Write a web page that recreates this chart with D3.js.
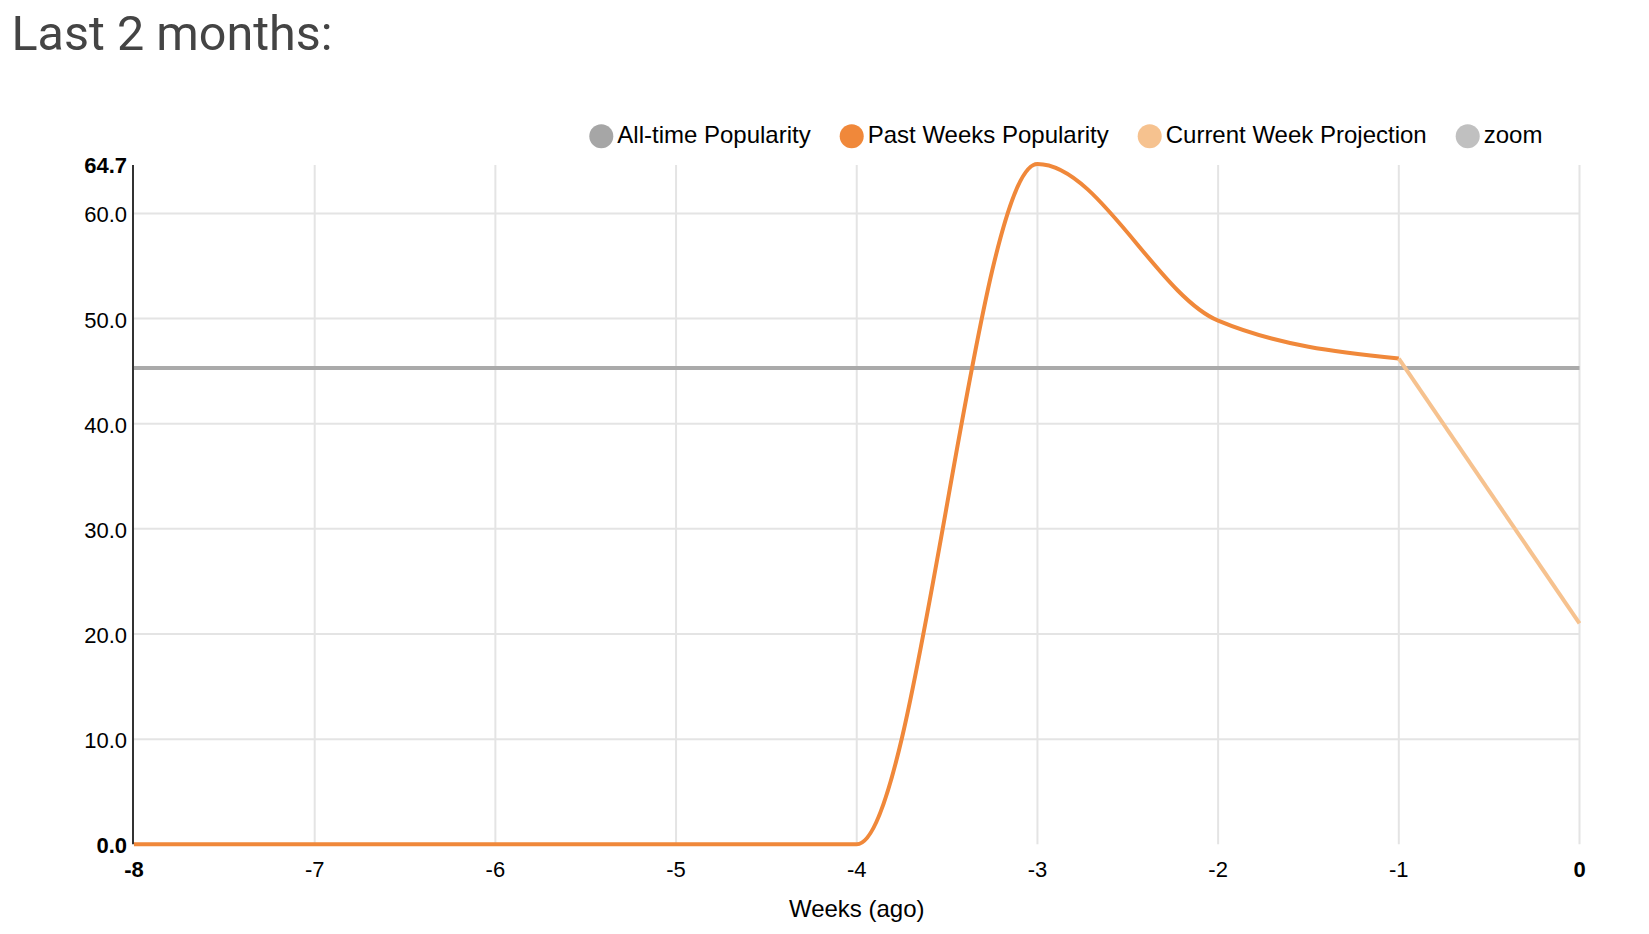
<!DOCTYPE html>
<html>
<head>
<meta charset="utf-8">
<script src="https://cdn.jsdelivr.net/npm/d3@7"></script>
<style>
  body { margin: 0; background: #fff; }
  svg { display: block; }
</style>
</head>
<body>
<svg id="chart"></svg>
<script>
const width = 1649;
const height = 934;

// data
const weeks = [-8, -7, -6, -5, -4, -3, -2, -1, 0];
const pastWeeks = [-8, -7, -6, -5, -4, -3, -2, -1];
const pastValues = [0, 0, 0, 0, 0, 64.7, 49.8, 46.2];
const projectionWeeks = [-1, 0];
const projectionValues = [46.2, 21.0];
const allTimeValue = 45.3;
const yTicks = [0, 10, 20, 30, 40, 50, 60, 64.7];
const legendKeys = ["All-time Popularity", "Past Weeks Popularity", "Current Week Projection", "zoom"];
const legendColors = ["#a6a6a6", "#f0883a", "#f6c28f", "#c0c0c0"];

const margin = { left: 134, right: 1649 - 1579.5, top: 164, bottom: 934 - 844.3 };

const svg = d3.select("#chart").attr("width", width).attr("height", height);

const xScale = d3.scaleLinear().domain([-8, 0]).range([margin.left, width - margin.right]);
const yScale = d3.scaleLinear().domain([0, 64.7]).range([height - margin.bottom, margin.top]);

// title
svg.append("text")
  .attr("x", 11.5)
  .attr("y", 50)
  .style("font-family", "Roboto")
  .style("font-size", "48.5px")
  .style("fill", "#444")
  .text("Last 2 months:");

// grid
const grid = svg.append("g");
grid.selectAll(".hgrid")
  .data(yTicks.filter(d => d > 0 && d < 64.7))
  .enter()
  .append("line")
  .attr("x1", xScale(-8))
  .attr("x2", xScale(0))
  .attr("y1", d => yScale(d))
  .attr("y2", d => yScale(d))
  .style("stroke", "#e4e4e4")
  .style("stroke-width", 2);

grid.selectAll(".vgrid")
  .data(weeks.filter(d => d > -8))
  .enter()
  .append("line")
  .attr("x1", d => xScale(d))
  .attr("x2", d => xScale(d))
  .attr("y1", yScale(64.7) + 1)
  .attr("y2", yScale(0))
  .style("stroke", "#e4e4e4")
  .style("stroke-width", 2);

// all-time line
const flat = weeks.map(w => [w, allTimeValue]);
svg.append("path")
  .datum(flat)
  .attr("d", d3.line().x(d => xScale(d[0])).y(d => yScale(d[1])))
  .style("fill", "none")
  .style("stroke", "#aaaaaa")
  .style("stroke-width", 4);

// past weeks
const line = d3.line()
  .x(d => xScale(d[0]))
  .y(d => yScale(d[1]))
  .curve(d3.curveMonotoneX);

svg.append("path")
  .datum(pastWeeks.map((w, i) => [w, pastValues[i]]))
  .attr("d", line)
  .style("fill", "none")
  .style("stroke", "#f0883a")
  .style("stroke-width", 4)
  .style("stroke-linejoin", "round");

svg.append("path")
  .datum(projectionWeeks.map((w, i) => [w, projectionValues[i]]))
  .attr("d", line)
  .style("fill", "none")
  .style("stroke", "#f6c28f")
  .style("stroke-width", 4);

// y axis line
svg.append("line")
  .attr("x1", xScale(-8) - 1)
  .attr("x2", xScale(-8) - 1)
  .attr("y1", yScale(64.7) + 1)
  .attr("y2", yScale(0))
  .style("stroke", "#333")
  .style("stroke-width", 2);

const font = "'Liberation Sans', Arial, sans-serif";

// y labels
svg.selectAll(".ylab")
  .data(yTicks)
  .enter()
  .append("text")
  .attr("x", 127)
  .attr("y", d => yScale(d) + 9)
  .attr("text-anchor", "end")
  .style("font-family", font)
  .style("font-size", "22px")
  .style("font-weight", d => (d === 0 || d === 64.7) ? "bold" : "normal")
  .style("fill", "#000")
  .text(d => d3.format(".1f")(d));

// x labels
svg.selectAll(".xlab")
  .data(weeks)
  .enter()
  .append("text")
  .attr("x", d => xScale(d))
  .attr("y", 877)
  .attr("text-anchor", "middle")
  .style("font-family", font)
  .style("font-size", "22px")
  .style("font-weight", d => (d === -8 || d === 0) ? "bold" : "normal")
  .style("fill", "#000")
  .text(d => d);

svg.append("text")
  .attr("x", (xScale(-8) + xScale(0)) / 2)
  .attr("y", 917)
  .attr("text-anchor", "middle")
  .style("font-family", font)
  .style("font-size", "24px")
  .style("fill", "#000")
  .text("Weeks (ago)");

// legend
const legend = svg.append("g");
let lx = 589.3;
legendKeys.forEach((k, i) => {
  legend.append("circle")
    .attr("cx", lx + 12)
    .attr("cy", 136.3)
    .attr("r", 12)
    .style("fill", legendColors[i]);
  const t = legend.append("text")
    .attr("x", lx + 28)
    .attr("y", 142.7)
    .style("font-family", font)
    .style("font-size", "24px")
    .style("fill", "#000")
    .text(k);
  lx += 28 + t.node().getComputedTextLength() + 29;
});
</script>
</body>
</html>
